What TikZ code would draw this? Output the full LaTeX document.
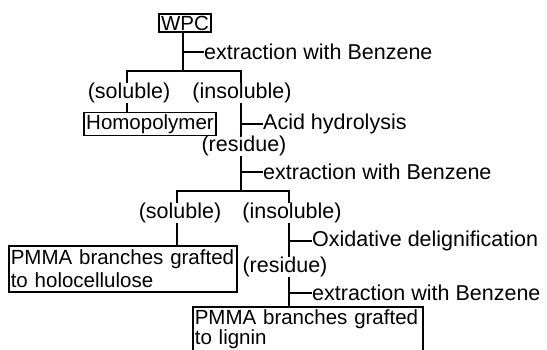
\documentclass[tikz,border=0pt]{standalone}
\usepackage{fontspec}
\setmainfont{Liberation Sans}
\usetikzlibrary{arrows.meta, calc, positioning}

\tikzset{
	box/.style={draw, line width=1.6pt, inner xsep=2pt, inner ysep=2pt, font=\fontsize{20.5}{23}\selectfont},
	lbl/.style={inner sep=1pt},
	link/.style={line width=1.6pt}
}

\begin{document}
\begin{tikzpicture}[x=1pt, y=-1pt, line cap=rect, font=\fontsize{21.5}{24}\selectfont]
	\useasboundingbox (0,0) rectangle (547,349);
	% columns of the vertical lines
	\coordinate (c1) at (183,0);
	\coordinate (c2) at (127,0);
	\coordinate (c3) at (241,0);
	\coordinate (c4) at (177,0);
	\coordinate (c5) at (289,0);
	\coordinate (br1) at (183,71);
	\coordinate (br2) at (241,191);
	
	% first step: WPC
	\node[box] (wpc) at (185,23) {WPC};
	\node[lbl, anchor=west] (ext1) at (203,52) {extraction with Benzene};
	\node[lbl] (sol1) at (129,93) {(soluble)};
	\node[lbl] (insol1) at (242,93) {(insoluble)};
	\node[box] (homo) at (150,124) {Homopolymer};
	\draw[link] (wpc.south -| c1) -- (br1);
	\draw[link] (ext1.west) -- (ext1.west -| c1);
	\draw[link] (sol1.north -| c2) |- (br1) -| (insol1.north -| c3);
	\draw[link] (sol1.south -| c2) -- (homo.north -| c2);
	
	% second step: acid hydrolysis
	\node[lbl, anchor=west] (acid) at (262,124) {Acid hydrolysis};
	\node[lbl] (res1) at (244,146) {(residue)};
	\node[lbl, anchor=west] (ext2) at (262,172) {extraction with Benzene};
	\node[lbl] (sol2) at (180,213) {(soluble)};
	\node[lbl] (insol2) at (292,213) {(insoluble)};
	\node[box, text width=224pt, align=left, anchor=north west, inner ysep=4pt] (holo) at (8,245) {PMMA branches grafted\\to holocellulose};
	\draw[link] (insol1.south -| c3) -- (res1.north -| c3);
	\draw[link] (acid.west) -- (acid.west -| c3);
	\draw[link] (res1.south -| c3) -- (br2);
	\draw[link] (ext2.west) -- (ext2.west -| c3);
	\draw[link] (sol2.north -| c4) |- (br2) -| (insol2.north -| c5);
	\draw[link] (sol2.south -| c4) -- (holo.north -| c4);
	
	% third step: delignification
	\node[lbl, anchor=west] (oxid) at (311,241) {Oxidative delignification};
	\node[lbl] (res2) at (285,267) {(residue)};
	\node[lbl, anchor=west] (ext3) at (311,293) {extraction with Benzene};
	\node[box, text width=226pt, align=left, anchor=north west, inner ysep=2.5pt, font=\fontsize{20.5}{20}\selectfont] (lignin) at (192,306) {PMMA branches grafted\\to lignin};
	\draw[link] (insol2.south -| c5) -- (res2.north -| c5);
	\draw[link] (oxid.west) -- (oxid.west -| c5);
	\draw[link] (res2.south -| c5) -- (lignin.north -| c5);
	\draw[link] (ext3.west) -- (ext3.west -| c5);
\end{tikzpicture}
\end{document}
